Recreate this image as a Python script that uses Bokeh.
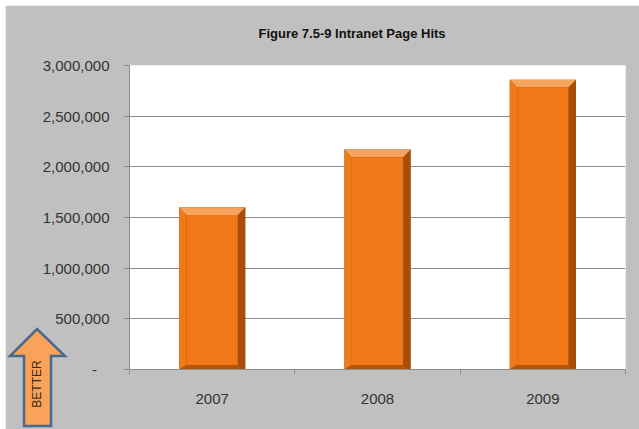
from bokeh.plotting import figure
from bokeh.layouts import column
from bokeh.models import FixedTicker, Range1d, NumeralTickFormatter, Div
from bokeh.embed import file_html
from bokeh.resources import INLINE

# Yearly intranet page hits
years = ["2007", "2008", "2009"]
hits = [1600000, 2170000, 2860000]
y_ticks = [0, 500000, 1000000, 1500000, 2000000, 2500000, 3000000]

GRAY_BG = "#C0C0C0"
AXIS_GRAY = "#8C8C8C"
TEXT = "#333333"

p = figure(width=634, height=424, output_backend="svg", toolbar_location=None,
           x_range=Range1d(0, len(years)), y_range=Range1d(0, 3000000),
           min_border_left=124, min_border_right=14,
           min_border_top=60, min_border_bottom=60)
p.margin = (5, 0, 0, 5)
p.background_fill_color = "white"
p.border_fill_color = GRAY_BG
p.outline_line_color = None

# second (blank) line lifts the title higher above the plot area
p.title.text = "Figure 7.5-9  Intranet Page Hits\n\u00a0"
p.title.align = "left"
p.title.offset = 129
p.title.standoff = 20
p.title.text_font = "Liberation Sans"
p.title.text_font_style = "bold"
p.title.text_font_size = "13px"
p.title.text_color = "#111111"

# bars with a simple bevel: dark base, light top edge, shaded sides, flat face
half = 0.2
dx = 0.045           # bevel depth along x (category units)
dy = 75000           # bevel depth along y (data units)
centers = [i + 0.5 for i in range(len(years))]

top_xs, top_ys, left_xs, left_ys = [], [], [], []
right_xs, right_ys, bot_xs, bot_ys = [], [], [], []
for c, v in zip(centers, hits):
    l, r = c - half, c + half
    top_xs.append([l, r, r - dx, l + dx]); top_ys.append([v, v, v - dy, v - dy])
    left_xs.append([l, l + dx, l + dx, l]); left_ys.append([v, v - dy, dy * 0.6, 0])
    right_xs.append([r, r - dx, r - dx, r]); right_ys.append([v, v - dy, dy * 0.6, 0])
    bot_xs.append([l, r, r - dx, l + dx]); bot_ys.append([0, 0, dy * 0.6, dy * 0.6])

p.vbar(x=centers, top=hits, width=2 * half, fill_color="#8E4206", line_color=None)
p.patches(left_xs, left_ys, fill_color="#EE7A1A", line_color=None)
p.patches(right_xs, right_ys, fill_color="#A84E08", line_color=None)
p.patches(bot_xs, bot_ys, fill_color="#B2560A", line_color=None)
p.patches(top_xs, top_ys, fill_color="#F5A45E", line_color=None)
p.quad(left=[c - half + dx for c in centers], right=[c + half - dx for c in centers],
       bottom=[dy * 0.6] * len(centers), top=[v - dy for v in hits],
       fill_color="#F27716", line_color=None)

# y axis
p.yaxis.ticker = FixedTicker(ticks=y_ticks)
p.yaxis.formatter = NumeralTickFormatter(format="0,0")
p.yaxis.major_label_overrides = {0: "-\u00a0\u00a0\u00a0"}
p.yaxis.axis_line_color = AXIS_GRAY
p.yaxis.major_tick_line_color = AXIS_GRAY
p.yaxis.major_tick_out = 6
p.yaxis.major_tick_in = 0
p.yaxis.minor_tick_line_color = None
p.yaxis.major_label_text_font = "Liberation Sans"
p.yaxis.major_label_text_font_size = "15px"
p.yaxis.major_label_text_color = TEXT
p.yaxis.major_label_standoff = 14

# x axis: labels at category centres, ticks at category boundaries
p.xaxis.ticker = FixedTicker(ticks=centers, minor_ticks=list(range(len(years) + 1)))
p.xaxis.major_label_overrides = {c: y for c, y in zip(centers, years)}
p.xaxis.axis_line_color = AXIS_GRAY
p.xaxis.major_tick_line_color = None
p.xaxis.minor_tick_line_color = AXIS_GRAY
p.xaxis.minor_tick_out = 5
p.xaxis.minor_tick_in = 0
p.xaxis.major_label_text_font = "Liberation Sans"
p.xaxis.major_label_text_font_size = "15px"
p.xaxis.major_label_text_color = TEXT
p.xaxis.major_label_standoff = 18

p.xgrid.grid_line_color = None
p.ygrid.grid_line_color = AXIS_GRAY
p.ygrid.ticker = FixedTicker(ticks=y_ticks)

# "BETTER" arrow drawn as inline SVG over the lower-left corner
arrow_svg = (
    '<svg xmlns="http://www.w3.org/2000/svg" width="62" height="104">'
    '<polygon points="31,4 59,31 45,31 45,101 18,101 18,31 4,31" '
    'fill="#F9A25A" stroke="#4A6A8C" stroke-width="2.5"/>'
    '<text x="31" y="59" transform="rotate(-90 31 59)" text-anchor="middle" '
    'dominant-baseline="central" font-family="Liberation Sans" font-size="12" '
    'fill="#3A2A1A">BETTER</text></svg>'
)
arrow = Div(text=arrow_svg, width=62, height=104,
            styles={"position": "absolute", "left": "6px", "top": "325px",
                    "z-index": "10", "padding": "0", "margin": "0",
                    "overflow": "visible"})

open("out.html", "w").write(file_html(column(p, arrow, spacing=0), INLINE))
